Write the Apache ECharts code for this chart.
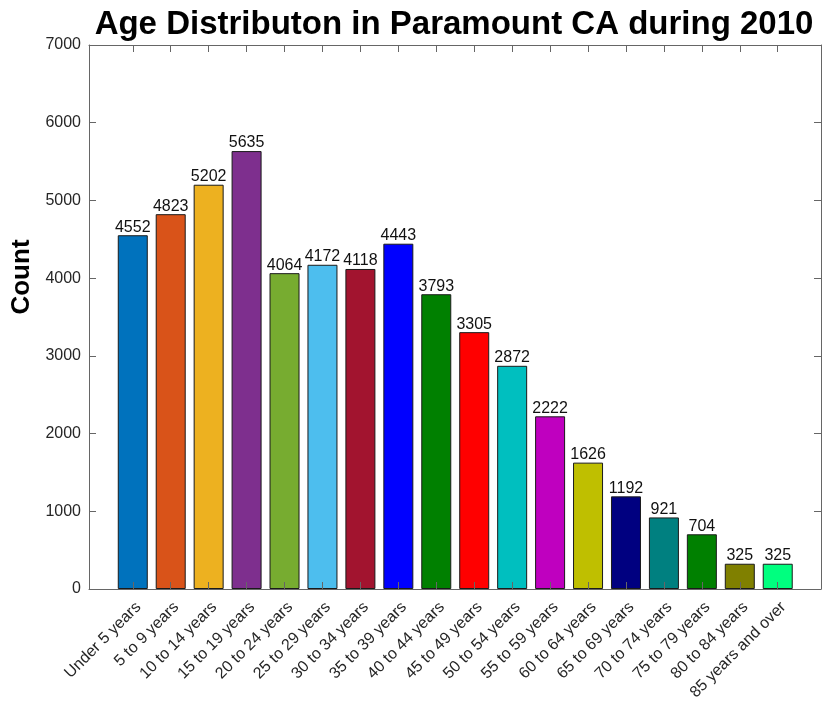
<!DOCTYPE html>
<html><head><meta charset="utf-8">
<script src="https://cdn.jsdelivr.net/npm/echarts@6/dist/echarts.min.js"></script>
<style>html,body{margin:0;padding:0;background:#fff}#c{width:824px;height:704px}</style>
</head><body><div id="c"></div>
<script>
const categories = ["Under 5 years","5 to 9 years","10 to 14 years","15 to 19 years","20 to 24 years","25 to 29 years","30 to 34 years","35 to 39 years","40 to 44 years","45 to 49 years","50 to 54 years","55 to 59 years","60 to 64 years","65 to 69 years","70 to 74 years","75 to 79 years","80 to 84 years","85 years and over"];
const counts = [4552,4823,5202,5635,4064,4172,4118,4443,3793,3305,2872,2222,1626,1192,921,704,325,325];
const barColors = ["#0072BD","#D95319","#EDB120","#7E2F8E","#77AC30","#4DBEEE","#A2142F","#0000FF","#008000","#FF0000","#00BFBF","#BF00BF","#BFBF00","#000080","#008080","#008000","#808000","#00FF7F"];
const yTicks = [0,1000,2000,3000,4000,5000,6000,7000];

const FONT = "'Liberation Sans', Arial, Helvetica, sans-serif";
const axisGray = '#666';
const txt = '#262626';
const chart = echarts.init(document.getElementById('c'), null, {renderer:'canvas'});
chart.setOption({
  animation:false,
  backgroundColor:'#fff',
  title:{text:'Age Distributon in Paramount CA during 2010', left:449, textAlign:'center', top:3,
    textStyle:{fontFamily:FONT, fontWeight:'bold', fontSize:33, color:'#000'}},
  grid:[
    {left:89, right:3, top:45, bottom:115, show:false},
    {left:113.8, right:27.3, top:45, bottom:115, show:false}
  ],
  xAxis:[
    {gridIndex:0, type:'value', min:0, max:1, position:'bottom', axisLine:{show:true, onZero:false, lineStyle:{color:axisGray}}, axisTick:{show:false}, axisLabel:{show:false}, splitLine:{show:false}},
    {gridIndex:0, type:'value', min:0, max:1, position:'top', axisLine:{show:true, onZero:false, lineStyle:{color:axisGray}}, axisTick:{show:false}, axisLabel:{show:false}, splitLine:{show:false}},
    {gridIndex:1, type:'category', data:categories, position:'bottom', z:5, axisLine:{show:false, onZero:false},
      axisTick:{show:true, inside:true, interval:0, alignWithLabel:true, length:7, lineStyle:{color:axisGray}},
      axisLabel:{rotate:45, interval:0, fontFamily:FONT, fontSize:16, color:txt, margin:10, verticalAlign:'top'}},
    {gridIndex:1, type:'category', data:categories, position:'top', z:5, axisLine:{show:false, onZero:false},
      axisTick:{show:true, inside:true, interval:0, alignWithLabel:true, length:7, lineStyle:{color:axisGray}},
      axisLabel:{show:false}}
  ],
  yAxis:[
    {gridIndex:0, type:'value', min:0, max:7000, interval:1000, position:'left',
      name:'Count', nameLocation:'middle', nameGap:46, nameRotate:90,
      nameTextStyle:{fontFamily:FONT, fontWeight:'bold', fontSize:26, color:'#000', padding:[0,0,0,80]},
      axisLine:{show:true, onZero:false, lineStyle:{color:axisGray}},
      axisTick:{show:true, inside:true, length:7, lineStyle:{color:axisGray}},
      axisLabel:{fontFamily:FONT, fontSize:16, color:txt, margin:8, formatter:(v)=> yTicks.includes(v)? String(v):''},
      splitLine:{show:false}},
    {gridIndex:0, type:'value', min:0, max:7000, interval:1000, position:'right',
      axisLine:{show:true, onZero:false, lineStyle:{color:axisGray}},
      axisTick:{show:true, inside:true, length:7, lineStyle:{color:axisGray}},
      axisLabel:{show:false}, splitLine:{show:false}},
    {gridIndex:1, type:'value', min:0, max:7000, show:false, splitLine:{show:false}}
  ],
  series:[{
    type:'bar', xAxisIndex:2, yAxisIndex:2, barWidth:30,
    data: counts.map((v,i)=>({value:v, itemStyle:{color:barColors[i]}})),
    itemStyle:{borderColor:'#1a1a1a', borderWidth:1},
    label:{show:true, position:'top', distance:0, fontFamily:FONT, fontSize:16, color:'#111'}
  }]
});
</script></body></html>
